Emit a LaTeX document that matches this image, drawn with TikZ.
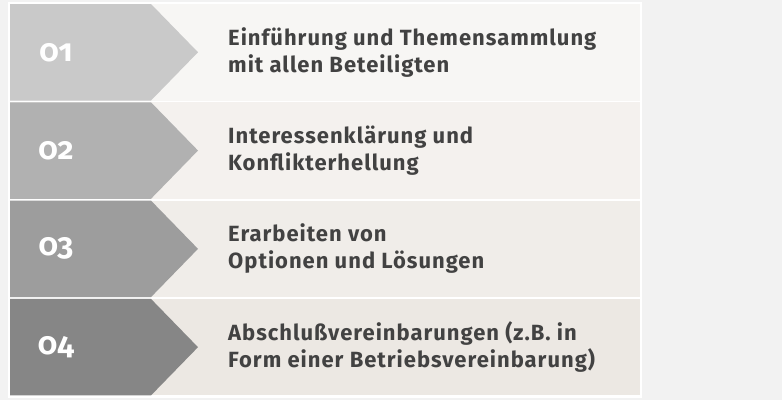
\documentclass[tikz,border=0pt]{standalone}
\usepackage{fontspec}
\setmainfont{Fira Sans}[LetterSpace=4.5]
\newfontfamily\numfont{Fira Sans}[Numbers=OldStyle]
\definecolor{bggrey}{HTML}{F2F2F2}
\definecolor{textgrey}{HTML}{424242}
\definecolor{rowa}{HTML}{F7F6F4}
\definecolor{rowb}{HTML}{F4F1EE}
\definecolor{rowc}{HTML}{F0EDE9}
\definecolor{rowd}{HTML}{ECE8E3}
\definecolor{arra}{HTML}{C9C9C9}
\definecolor{arrb}{HTML}{B1B1B1}
\definecolor{arrc}{HTML}{9D9D9D}
\definecolor{arrd}{HTML}{868686}
\begin{document}
\begin{tikzpicture}[x=1pt,y=-1pt,
  numtext/.style={font=\numfont\fontsize{31}{31}\selectfont\bfseries,text=white,inner sep=0pt},
  steptext/.style={font=\fontsize{22}{27}\selectfont\bfseries,text=textgrey,align=left,anchor=west,inner sep=0pt}]
%background
\fill[bggrey](0,0)rectangle(782,400);
\fill[white](8,2)rectangle(642,398);
%rows and arrows
\foreach \i/\row/\arr in {1/rowa/arra,2/rowb/arrb,3/rowc/arrc,4/rowd/arrd}{
  \pgfmathsetmacro\rowtop{4+98.3*(\i-1)}
  \fill[\row](10,\rowtop)rectangle++(630,96.5);
  \fill[\arr](10,\rowtop)--++(141,0)--++(47,48.25)--++(-47,48.25)--++(-141,0)--cycle;
}
%numbers
\foreach \i in {1,2,3,4}{
  \node[numtext](n\i) at (56,{52.25+98.3*(\i-1)}){0\i};
}
%texts
\node[steptext](t1) at (228,52.25){Einführung und Themensammlung\\mit allen Beteiligten};
\node[steptext](t2) at (228,150.55){Interessenklärung und\\Konflikterhellung};
\node[steptext](t3) at (228,248.85){Erarbeiten von\\Optionen und Lösungen};
\node[steptext](t4) at (228,347.15){Abschlußvereinbarungen (z.B. in\\Form einer Betriebsvereinbarung)};
\end{tikzpicture}
\end{document}
